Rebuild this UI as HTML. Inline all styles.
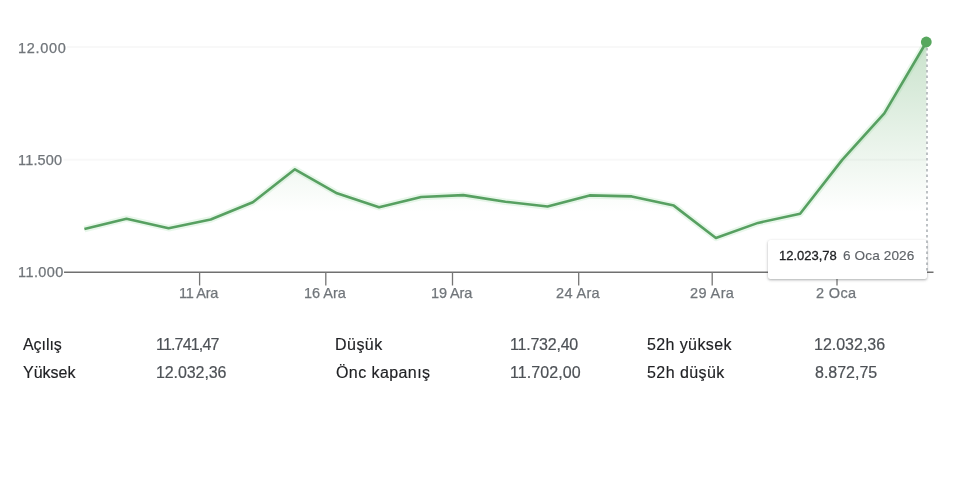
<!DOCTYPE html>
<html><head><meta charset="utf-8"><style>
html,body{margin:0;padding:0;background:#fff;}
body{width:960px;height:480px;position:relative;overflow:hidden;font-family:"Liberation Sans",Arial,sans-serif;-webkit-font-smoothing:antialiased;}
.yl,.xl,.lb,.vl,.ta,.tb{will-change:transform;}
svg{position:absolute;left:0;top:0;}
.tk{stroke:#757575;stroke-width:1.3;}
.yl,.xl{position:absolute;font-size:14.5px;color:#70757a;-webkit-text-stroke:0.25px #70757a;line-height:16px;white-space:nowrap;}
.lb{position:absolute;font-size:16px;color:#202124;-webkit-text-stroke:0.15px #202124;line-height:20px;white-space:nowrap;}
.vl{position:absolute;font-size:16px;color:#4d5156;-webkit-text-stroke:0.2px #4d5156;line-height:20px;white-space:nowrap;}
.ta{position:absolute;font-size:13px;-webkit-text-stroke:0.3px #202124;color:#202124;line-height:16px;white-space:nowrap;}
.tb{position:absolute;font-size:13.6px;color:#5f6368;-webkit-text-stroke:0.15px #5f6368;line-height:16px;white-space:nowrap;}
#tt{position:absolute;left:767.5px;top:239.5px;width:159.5px;height:39px;background:#fff;border-radius:2.5px;box-shadow:0 1px 3px rgba(60,64,67,.3),0 1px 2px rgba(60,64,67,.15);}
</style></head><body>
<svg width="960" height="480" viewBox="0 0 960 480">
<defs>
<linearGradient id="g" gradientUnits="userSpaceOnUse" x1="0" y1="42" x2="0" y2="212">
<stop offset="0" stop-color="#58a660" stop-opacity="0.32"/>
<stop offset="1" stop-color="#58a660" stop-opacity="0"/>
</linearGradient>
</defs>
<line x1="67" y1="47.1" x2="926" y2="47.1" stroke="#f8f8f8" stroke-width="2"/>
<line x1="63.5" y1="159.8" x2="926" y2="159.8" stroke="#f8f8f8" stroke-width="2"/>
<path d="M84.4,229.1 L126.5,218.7 L168.6,228.2 L210.7,219.5 L252.8,202.3 L294.9,169.3 L337.0,193.3 L379.1,207.2 L421.2,197.0 L463.3,195.1 L505.4,201.7 L547.5,206.5 L589.6,195.4 L631.7,196.4 L673.8,205.6 L715.9,238.0 L758.0,222.9 L800.1,213.7 L842.2,159.9 L884.3,113.3 L926.4,42.0 L926.4,272 L84.4,272 Z" fill="url(#g)"/>
<line x1="64" y1="272.3" x2="933.5" y2="272.3" stroke="#707070" stroke-width="1.4"/>
<line x1="199.6" y1="272" x2="199.6" y2="285.5" class="tk"/>
<line x1="325.8" y1="272" x2="325.8" y2="285.5" class="tk"/>
<line x1="452.5" y1="272" x2="452.5" y2="285.5" class="tk"/>
<line x1="578.7" y1="272" x2="578.7" y2="285.5" class="tk"/>
<line x1="712.2" y1="272" x2="712.2" y2="285.5" class="tk"/>
<line x1="837" y1="272" x2="837" y2="285.5" class="tk"/>
<path d="M84.4,229.1 L126.5,218.7 L168.6,228.2 L210.7,219.5 L252.8,202.3 L294.9,169.3 L337.0,193.3 L379.1,207.2 L421.2,197.0 L463.3,195.1 L505.4,201.7 L547.5,206.5 L589.6,195.4 L631.7,196.4 L673.8,205.6 L715.9,238.0 L758.0,222.9 L800.1,213.7 L842.2,159.9 L884.3,113.3 L926.4,42.0" fill="none" stroke="#6fd07e" stroke-opacity="0.16" stroke-width="6.5" stroke-linejoin="round"/>
<path d="M84.4,229.1 L126.5,218.7 L168.6,228.2 L210.7,219.5 L252.8,202.3 L294.9,169.3 L337.0,193.3 L379.1,207.2 L421.2,197.0 L463.3,195.1 L505.4,201.7 L547.5,206.5 L589.6,195.4 L631.7,196.4 L673.8,205.6 L715.9,238.0 L758.0,222.9 L800.1,213.7 L842.2,159.9 L884.3,113.3 L926.4,42.0" fill="none" stroke="#57a061" stroke-width="2.6" stroke-linejoin="round" stroke-linecap="butt"/>
</svg>
<div id="tt"></div>
<svg width="960" height="480" viewBox="0 0 960 480" style="pointer-events:none">
<line x1="927" y1="48" x2="927" y2="272" stroke="#9aa0a6" stroke-width="1.3" stroke-dasharray="2.5,3"/>
<circle cx="926.3" cy="42" r="5.4" fill="#57a75e"/>
</svg>
<div class="yl" id="y1" style="left:17.53px;top:40.30px;letter-spacing:0.688px;">12.000</div>
<div class="yl" id="y2" style="left:17.70px;top:152.00px;letter-spacing:0.177px;">11.500</div>
<div class="yl" id="y3" style="left:17.70px;top:264.40px;letter-spacing:0.426px;">11.000</div>
<div class="xl" id="x1" style="left:179.48px;top:285.00px;letter-spacing:-0.304px;">11 Ara</div>
<div class="xl" id="x2" style="left:304.42px;top:285.00px;letter-spacing:-0.005px;">16 Ara</div>
<div class="xl" id="x3" style="left:431.19px;top:285.00px;letter-spacing:-0.136px;">19 Ara</div>
<div class="xl" id="x4" style="left:556.24px;top:285.00px;letter-spacing:0.349px;">24 Ara</div>
<div class="xl" id="x5" style="left:689.67px;top:285.00px;letter-spacing:0.400px;">29 Ara</div>
<div class="xl" id="x6" style="left:815.75px;top:285.00px;letter-spacing:0.357px;">2 Oca</div>
<div class="lb" id="l1" style="left:22.73px;top:335.00px;letter-spacing:-0.064px;">Açılış</div>
<div class="lb" id="l2" style="left:22.82px;top:363.00px;letter-spacing:-0.006px;">Yüksek</div>
<div class="vl" id="v1" style="left:155.87px;top:335.00px;letter-spacing:-0.817px;">11.741,47</div>
<div class="vl" id="v2" style="left:155.73px;top:363.00px;letter-spacing:-0.091px;">12.032,36</div>
<div class="lb" id="l3" style="left:335.27px;top:335.00px;letter-spacing:0.470px;">Düşük</div>
<div class="lb" id="l4" style="left:335.54px;top:363.00px;letter-spacing:0.421px;">Önc kapanış</div>
<div class="vl" id="v3" style="left:510.02px;top:335.00px;letter-spacing:-0.218px;">11.732,40</div>
<div class="vl" id="v4" style="left:509.96px;top:363.00px;letter-spacing:0.082px;">11.702,00</div>
<div class="lb" id="l5" style="left:647.21px;top:335.00px;letter-spacing:0.394px;">52h yüksek</div>
<div class="lb" id="l6" style="left:647.24px;top:363.00px;letter-spacing:0.438px;">52h düşük</div>
<div class="vl" id="v5" style="left:814.25px;top:335.00px;letter-spacing:-0.010px;">12.032,36</div>
<div class="vl" id="v6" style="left:815.07px;top:363.00px;letter-spacing:-0.014px;">8.872,75</div>
<div class="ta" id="t1" style="left:779.23px;top:248.30px;letter-spacing:-0.010px;">12.023,78</div>
<div class="tb" id="t2" style="left:842.92px;top:247.60px;letter-spacing:0.118px;">6 Oca 2026</div>
</body></html>
